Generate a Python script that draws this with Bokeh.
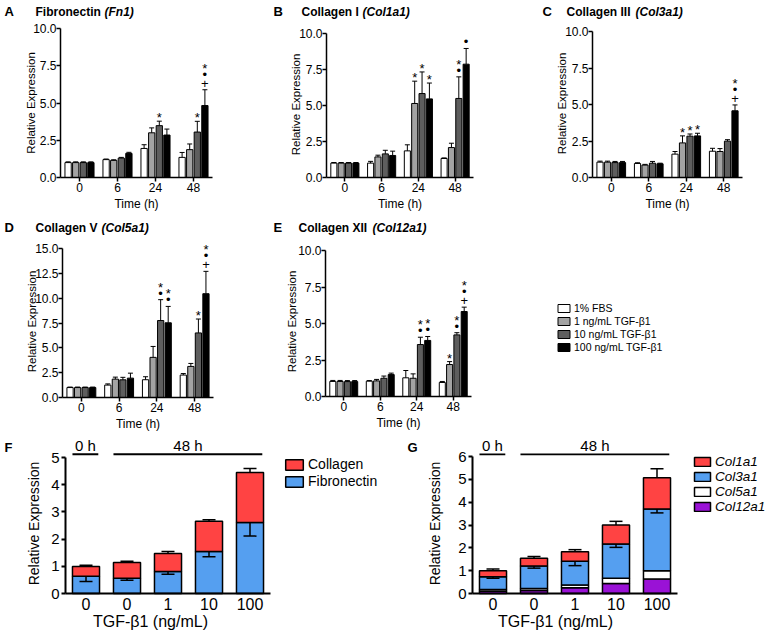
import numpy as np
from bokeh.plotting import figure
from bokeh.models import (ColumnDataSource, Whisker, TeeHead, Label, Legend, LegendItem,
                          FixedTicker, PrintfTickFormatter, Range1d)
from bokeh.layouts import column, row
from bokeh.embed import file_html
from bokeh.resources import INLINE
from bokeh.core.properties import value

FONT = "Liberation Sans"

# ---------------- data ----------------
time_labels = ["0", "6", "24", "48"]
series_names = ["1% FBS", "1 ng/mL TGF-\u03b21", "10 ng/mL TGF-\u03b21", "100 ng/mL TGF-\u03b21"]

# rows: 1% FBS, 1 ng/mL, 10 ng/mL, 100 ng/mL ; columns: 0, 6, 24, 48 h
fn1_mean = [[1.00, 1.20, 1.95, 1.35], [1.00, 1.15, 3.00, 1.87], [1.00, 1.30, 3.48, 3.05], [1.00, 1.62, 2.85, 4.83]]
fn1_err = [[0.05, 0.04, 0.25, 0.33], [0.05, 0.04, 0.33, 0.38], [0.05, 0.05, 0.30, 0.72], [0.05, 0.07, 0.40, 1.06]]
fn1_sig = [(2, 2, "*"), (3, 2, "*"), (3, 3, "+\u2022*")]

col1a1_mean = [[1.00, 1.00, 1.85, 1.32], [1.00, 1.43, 5.14, 2.08], [1.00, 1.64, 5.83, 5.49], [1.00, 1.53, 5.46, 7.87]]
col1a1_err = [[0.04, 0.12, 0.42, 0.04], [0.04, 0.12, 1.55, 0.30], [0.04, 0.25, 1.50, 1.50], [0.04, 0.30, 1.10, 1.09]]
col1a1_sig = [(2, 1, "*"), (2, 2, "*"), (2, 3, "*"), (3, 2, "\u2022*"), (3, 3, "\u2022")]

col3a1_mean = [[1.05, 0.96, 1.60, 1.80], [1.05, 0.85, 2.37, 1.78], [1.02, 0.98, 2.83, 2.49], [1.02, 0.94, 2.85, 4.57]]
col3a1_err = [[0.07, 0.05, 0.18, 0.20], [0.07, 0.05, 0.48, 0.20], [0.08, 0.12, 0.15, 0.10], [0.08, 0.04, 0.18, 0.40]]
col3a1_sig = [(2, 1, "*"), (2, 2, "*"), (2, 3, "*"), (3, 3, "+\u2022*")]

col5a1_mean = [[1.00, 1.25, 1.79, 2.26], [1.00, 1.85, 4.04, 3.13], [1.00, 1.78, 7.75, 6.50], [1.00, 1.95, 7.52, 10.45]]
col5a1_err = [[0.05, 0.12, 0.30, 0.15], [0.05, 0.20, 1.10, 0.30], [0.05, 0.25, 2.10, 1.40], [0.05, 0.50, 1.65, 2.25]]
col5a1_sig = [(2, 2, "\u2022*"), (2, 3, "\u2022*"), (3, 2, "*"), (3, 3, "+\u2022*")]

col12a1_mean = [[1.03, 1.05, 1.28, 0.96], [1.03, 1.07, 1.25, 2.19], [1.02, 1.25, 3.56, 4.22], [1.02, 1.50, 3.84, 5.82]]
col12a1_err = [[0.07, 0.04, 0.50, 0.07], [0.07, 0.10, 0.30, 0.20], [0.07, 0.15, 0.50, 0.15], [0.07, 0.10, 0.27, 0.30]]
col12a1_sig = [(2, 2, "\u2022*"), (2, 3, "\u2022*"), (3, 1, "*"), (3, 2, "\u2022*"), (3, 3, "+\u2022*")]

doses = ["0", "0", "1", "10", "100"]
time_groups = [("0 h", 0, 0), ("48 h", 1, 4)]

fibronectin = [0.63, 0.56, 0.81, 1.54, 2.61]
fibronectin_err = [0.19, 0.07, 0.10, 0.19, 0.50]
collagen = [0.36, 0.58, 0.66, 1.12, 1.84]
collagen_err = [0.05, 0.05, 0.07, 0.05, 0.15]

g_col12a1 = [0.10, 0.13, 0.25, 0.44, 0.63]
g_col5a1 = [0.07, 0.09, 0.12, 0.23, 0.37]
g_col3a1 = [0.56, 0.98, 1.04, 1.50, 2.70]
g_col1a1 = [0.27, 0.34, 0.42, 0.83, 1.37]
g_col3a1_err = [0.06, 0.09, 0.19, 0.15, 0.17]
g_col1a1_err = [0.07, 0.08, 0.09, 0.16, 0.39]

# ---------------- styles ----------------
GRAYS = ["white", "#a3a3a3", "#5e5e5e", "black"]
RED = "#ff4343"
BLUE = "#559ff0"
PURPLE = "#9a12d6"
SLOT = 0.2
BW = 0.165
YTITLE = "Relative Expression"


class Panel:
    """A figure whose frame fills its whole box; axes sit at fixed data locations."""

    def __init__(self, box, xmap, ymap):
        x0, y0, w, h = box
        (xa, pxa), (xb, pxb) = xmap
        (yc, pyc), (yd, pyd) = ymap
        self.x0, self.y0, self.w, self.h = x0, y0, w, h
        self.sx = (xb - xa) / (pxb - pxa)
        self.xs = xa - (pxa - x0) * self.sx
        self.sy = (yd - yc) / (pyc - pyd)
        self.ys = yc - (y0 + h - pyc) * self.sy
        p = figure(width=w, height=h,
                   x_range=Range1d(self.xs, self.xs + w * self.sx),
                   y_range=Range1d(self.ys, self.ys + h * self.sy),
                   output_backend="svg", toolbar_location=None, min_border=0,
                   min_border_left=0, min_border_right=0, min_border_top=0, min_border_bottom=0)
        p.title.visible = False
        p.xgrid.visible = False
        p.ygrid.visible = False
        p.outline_line_color = None
        p.background_fill_color = "white"
        p.border_fill_color = "white"
        self.p = p

    def X(self, px):
        return self.xs + (px - self.x0) * self.sx

    def Y(self, py):
        return self.ys + (self.y0 + self.h - py) * self.sy

    def label(self, px, py, text, size, style="normal", align="left", angle=0.0):
        self.p.add_layout(Label(x=self.X(px), y=self.Y(py), text=text, text_font=FONT,
                                text_font_size=size, text_font_style=style, text_color="black",
                                text_baseline="middle", text_align=align, angle=angle))

    def legend_loc(self, px_left, py_bottom):
        return (int(round(px_left - self.x0)), int(round(self.y0 + self.h - py_bottom)))


def style_axis(ax, lw, tick_out, tick_size, label_size, tick_standoff, label_standoff):
    ax.axis_line_width = lw
    ax.axis_line_color = "black"
    ax.major_tick_line_width = lw
    ax.major_tick_line_color = "black" if tick_out > 0 else None
    ax.major_tick_in = 0
    ax.major_tick_out = tick_out
    ax.minor_tick_line_color = None
    ax.major_label_text_font = FONT
    ax.major_label_text_font_size = tick_size
    ax.major_label_text_color = "black"
    ax.major_label_standoff = tick_standoff
    ax.axis_label_text_font = FONT
    ax.axis_label_text_font_style = "normal"
    ax.axis_label_text_font_size = label_size
    ax.axis_label_text_color = "black"
    ax.axis_label_standoff = label_standoff


# vertical lift of each marker glyph (px) inside its slot
SYM_LIFT = {"*": -3.0, "\u2022": 0.0, "+": 0.0}


def time_panel(means, errs, sig, ymax, ystep, box, xpix, ypix, title, ytitle_at):
    P = Panel(box, ((-0.5, xpix[0]), (3.5, xpix[1])), ((0, ypix[0]), (ymax, ypix[1])))
    p = P.p
    rends = []
    for s in range(4):
        m = np.array(means[s])
        e = np.array(errs[s])
        x = np.arange(4) + (s - 1.5) * SLOT
        src = ColumnDataSource(dict(x=x, top=m, hi=m + e))
        r = p.vbar(x="x", top="top", bottom=0, width=BW, source=src,
                   fill_color=GRAYS[s], line_color="black", line_width=1)
        rends.append(r)
        p.add_layout(Whisker(source=src, base="x", lower="top", upper="hi", dimension="height",
                             lower_head=None,
                             upper_head=TeeHead(size=5, line_width=1, line_color="black"),
                             line_color="black", line_width=1, level="overlay"))
    xs, ys, tx, off = [], [], [], []
    for g, s, marks in sig:
        for k, mk in enumerate(marks):
            xs.append(g + (s - 1.5) * SLOT)
            ys.append(means[s][g] + errs[s][g])
            tx.append(mk)
            off.append(-(6.5 + 9.0 * k) - SYM_LIFT[mk])
    p.text(x=xs, y=ys, text=tx, y_offset=off, text_align="center", text_baseline="middle",
           text_font=value(FONT), text_font_size="13px", text_color="black")

    p.xaxis.ticker = FixedTicker(ticks=list(range(4)))
    p.xaxis.major_label_overrides = {i: t for i, t in enumerate(time_labels)}
    p.xaxis.axis_label = "Time (h)"
    p.xaxis.fixed_location = 0
    p.xaxis.bounds = (-0.5, 3.5)
    p.yaxis.ticker = FixedTicker(ticks=list(np.arange(0, ymax + 0.001, ystep)))
    p.yaxis.formatter = PrintfTickFormatter(format="%.1f")
    p.yaxis.bounds = (0, ymax)
    p.yaxis.fixed_location = -0.5
    style_axis(p.xaxis[0], 1.5, 4, "12px", "12px", 1, 2)
    style_axis(p.yaxis[0], 1.5, 4, "12px", "11.5px", 0, 0)
    P.label(ytitle_at[0], ytitle_at[1], YTITLE, "11.5px", "normal", "center", np.pi / 2)

    (lx, mx, gx, ty), (letter, main, gene) = title
    P.label(lx, ty, letter, "13px", "bold")
    P.label(mx, ty, main, "12px", "bold")
    P.label(gx, ty, gene, "12px", "bold italic")
    return P, rends


def legend_of(items, loc, gw, gh, lh, size, spacing, style="normal"):
    return Legend(items=items, location=loc, orientation="vertical", padding=0, margin=0,
                  spacing=spacing, glyph_width=gw, glyph_height=gh, label_height=lh,
                  label_standoff=3, label_text_font=FONT, label_text_font_size=size,
                  label_text_font_style=style, label_text_color="black",
                  border_line_color=None, background_fill_alpha=0)


# ---------------- top panels ----------------
PA, _ = time_panel(fn1_mean, fn1_err, fn1_sig, 10, 2.5, (0, 0, 263, 213), (60, 212), (177, 28),
                   ((4, 35, 104, 11), ("A", "Fibronectin", "(Fn1)")), (30.5, 102.5))
PB, _ = time_panel(col1a1_mean, col1a1_err, col1a1_sig, 10, 2.5, (263, 0, 255, 213), (326, 473), (177, 33),
                   ((273, 301, 362, 11), ("B", "Collagen I", "(Col1a1)")), (295, 104))
PC, _ = time_panel(col3a1_mean, col3a1_err, col3a1_sig, 10, 2.5, (518, 0, 254, 213), (592, 742), (177, 31),
                   ((542, 566, 635, 11), ("C", "Collagen III", "(Col3a1)")), (561, 103))
PD, _ = time_panel(col5a1_mean, col5a1_err, col5a1_sig, 15, 2.5, (0, 213, 263, 218), (62, 213), (397, 248),
                   ((4, 35, 101, 227), ("D", "Collagen V", "(Col5a1)")), (31, 321))
PE, rE = time_panel(col12a1_mean, col12a1_err, col12a1_sig, 10, 2.5, (263, 213, 509, 218), (325, 471), (396, 250),
                    ((273, 298, 372, 227), ("E", "Collagen XII", "(Col12a1)")), (291, 321))
PE.p.add_layout(legend_of([LegendItem(label=series_names[i], renderers=[rE[i]]) for i in range(4)],
                          PE.legend_loc(556, 353), 15, 10, 12, "10.5px", 1))


# ---------------- stacked panels ----------------
def stacked_panel(box, xpix, ypix, ymax, bracket_y, ytitle_at):
    P = Panel(box, ((-0.5, xpix[0]), (4.5, xpix[1])), ((0, ypix[0]), (ymax, ypix[1])))
    p = P.p
    p.xaxis.ticker = FixedTicker(ticks=list(range(len(doses))))
    p.xaxis.major_label_overrides = {i: d for i, d in enumerate(doses)}
    p.xaxis.fixed_location = 0
    p.xaxis.bounds = (-0.5, 4.5)
    p.yaxis.ticker = FixedTicker(ticks=list(range(ymax + 1)))
    p.yaxis.bounds = (0, ymax)
    p.yaxis.fixed_location = -0.5
    style_axis(p.xaxis[0], 2, 0, "16px", "16px", 4, 2)
    style_axis(p.yaxis[0], 2, 4, "15px", "14px", 2, 0)
    P.label(ytitle_at[0], ytitle_at[1], YTITLE, "14px", "normal", "center", np.pi / 2)
    bx0 = [g[1] - 0.33 for g in time_groups]
    bx1 = [g[2] + 0.3 for g in time_groups]
    p.segment(x0=bx0, x1=bx1, y0=[bracket_y] * len(time_groups), y1=[bracket_y] * len(time_groups),
              line_color="black", line_width=1.8)
    p.text(x=[(a + b) / 2 for a, b in zip(bx0, bx1)], y=[bracket_y] * len(time_groups),
           text=[g[0] for g in time_groups], y_offset=0, text_align="center",
           text_baseline="bottom", text_font=value(FONT), text_font_size="15px", text_color="black")
    return P


def whisk(p, x, lo, hi, up):
    src = ColumnDataSource(dict(x=x, lo=lo, hi=hi))
    head = TeeHead(size=13, line_width=1.5, line_color="black")
    p.add_layout(Whisker(source=src, base="x", lower="lo", upper="hi", dimension="height",
                         lower_head=None if up else head, upper_head=head if up else None,
                         line_color="black", line_width=1.5, level="overlay"))


xi = np.arange(len(doses))

# F
PF = stacked_panel((0, 431, 390, 206), (65, 270), (593, 457), 5, 5.12, (33, 523))
pF = PF.p
fib = np.array(fibronectin)
tot = fib + np.array(collagen)
rF_b = pF.vbar(x=xi, bottom=0, top=fib, width=0.66, fill_color=BLUE, line_color="black", line_width=1.5)
rF_r = pF.vbar(x=xi, bottom=fib, top=tot, width=0.66, fill_color=RED, line_color="black", line_width=1.5)
whisk(pF, xi, fib - np.array(fibronectin_err), fib, False)
whisk(pF, xi, tot, tot + np.array(collagen_err), True)
pF.add_layout(legend_of([LegendItem(label="Collagen", renderers=[rF_r]),
                         LegendItem(label="Fibronectin", renderers=[rF_b])],
                        PF.legend_loc(283, 489.5), 22, 13, 16, "14px", 1))
PF.label(4, 447, "F", "13px", "bold")
PF.label(150, 621, "TGF-\u03b21 (ng/mL)", "16px", "normal", "center")

# G
PG = stacked_panel((390, 431, 382, 206), (472, 677), (593, 456), 6, 6.09, (434, 523))
pG = PG.p
c12 = np.array(g_col12a1)
c5 = c12 + np.array(g_col5a1)
c3 = c5 + np.array(g_col3a1)
c1 = c3 + np.array(g_col1a1)
rG_p = pG.vbar(x=xi, bottom=0, top=c12, width=0.66, fill_color=PURPLE, line_color="black", line_width=1.5)
rG_w = pG.vbar(x=xi, bottom=c12, top=c5, width=0.66, fill_color="white", line_color="black", line_width=1.5)
rG_b = pG.vbar(x=xi, bottom=c5, top=c3, width=0.66, fill_color=BLUE, line_color="black", line_width=1.5)
rG_r = pG.vbar(x=xi, bottom=c3, top=c1, width=0.66, fill_color=RED, line_color="black", line_width=1.5)
whisk(pG, xi, c3 - np.array(g_col3a1_err), c3, False)
whisk(pG, xi, c1, c1 + np.array(g_col1a1_err), True)
pG.add_layout(legend_of([LegendItem(label="Col1a1", renderers=[rG_r]),
                         LegendItem(label="Col3a1", renderers=[rG_b]),
                         LegendItem(label="Col5a1", renderers=[rG_w]),
                         LegendItem(label="Col12a1", renderers=[rG_p])],
                        PG.legend_loc(692, 514), 20, 11, 14, "13.5px", 0, "italic"))
PG.label(407, 447, "G", "13px", "bold")
PG.label(555, 621, "TGF-\u03b21 (ng/mL)", "16px", "normal", "center")

layout = column(row(PA.p, PB.p, PC.p), row(PD.p, PE.p), row(PF.p, PG.p))
open("out.html", "w").write(file_html(layout, INLINE))
